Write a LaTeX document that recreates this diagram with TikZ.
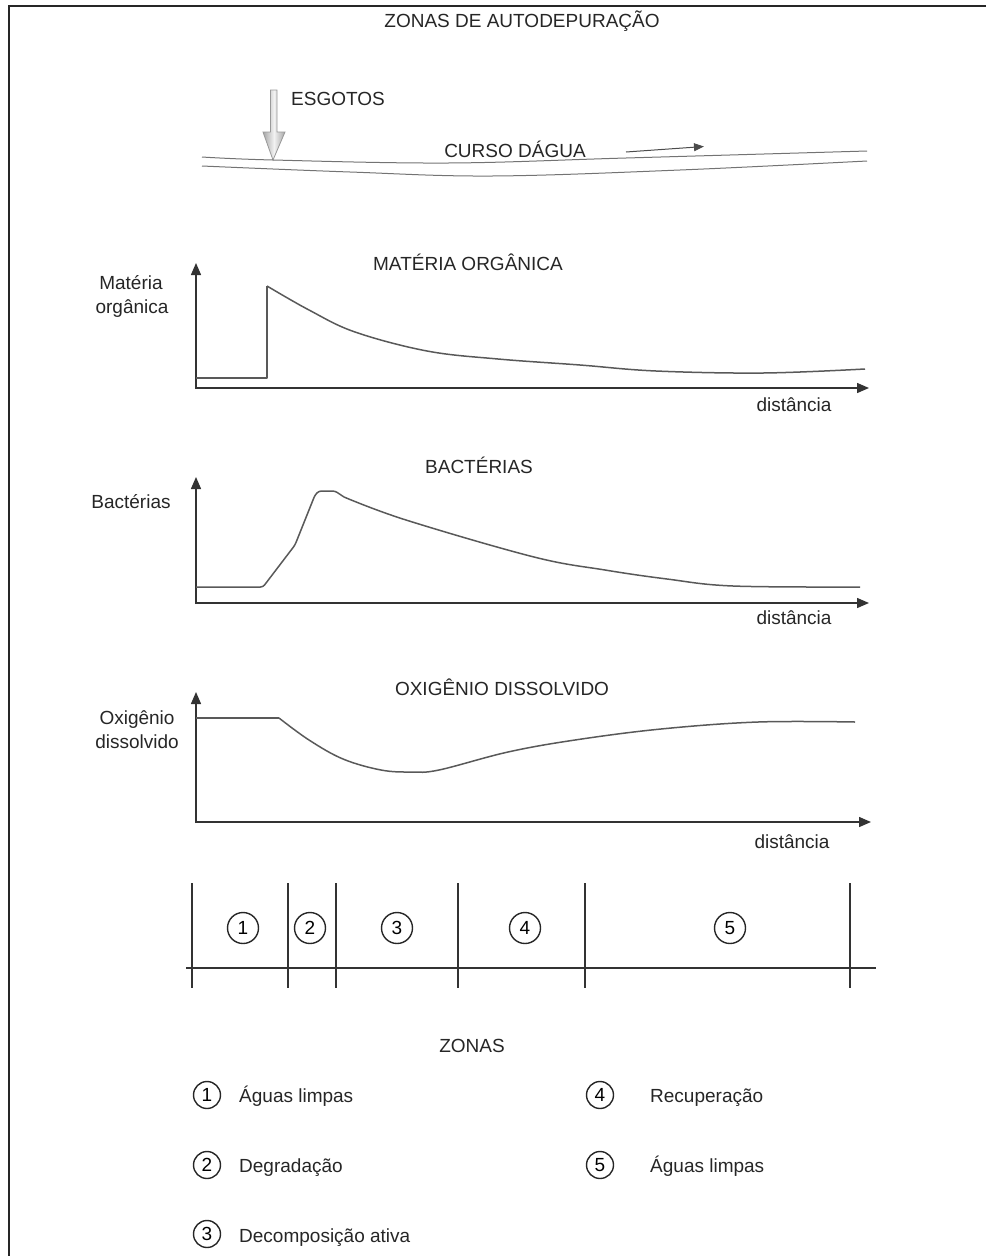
\documentclass[tikz,border=0pt]{standalone}
\usepackage{fontspec}
\setmainfont{Liberation Sans}
\usetikzlibrary{arrows.meta}
\begin{document}
\begin{tikzpicture}[x=1pt,y=-1pt,
  txt/.style={font=\fontsize{19}{22}\selectfont, inner sep=0pt, anchor=base, text=black!85},
  axis/.style={draw=black!80, line width=1.4pt, -{Triangle[length=12pt,width=10pt]}},
  curve/.style={draw=black!65, line width=1.5pt, line join=round},
  zline/.style={draw=black!80, line width=1.3pt},
  zcirc/.style={circle, draw=black!85, line width=1.4pt, minimum size=31pt, inner sep=0pt, font=\fontsize{19}{22}\selectfont},
  lcirc/.style={circle, draw=black!85, line width=1.4pt, minimum size=27pt, inner sep=0pt, font=\fontsize{19}{22}\selectfont},
  ltxt/.style={txt, anchor=base west}]
\useasboundingbox (0,0) rectangle (986,1256);
% frame
\draw[black!85, line width=2.5pt] (986,6) -- (9,6) -- (9,1256);
% title
\node[txt] (title) at (522,27) {ZONAS DE AUTODEPURAÇÃO};
% sewage arrow
\shade[left color=gray!70, right color=gray!70, middle color=gray!10, draw=gray!80, line width=0.8pt]
  (270.5,90) -- (277,90) -- (277,132) -- (285,132) -- (273,160) -- (263,132) -- (270.5,132) -- cycle;
\node[txt, anchor=base west] (esg) at (291,105) {ESGOTOS};
% river
\draw[black!55, line width=1pt] plot[smooth, tension=0.6] coordinates {(202,157) (273,160) (448,163) (626,158) (867,151)};
\draw[black!55, line width=1pt] plot[smooth, tension=0.6] coordinates {(202,166) (350,172) (492,176) (680,170) (867,161)};
\node[txt] (curso) at (515,157) {CURSO DÁGUA};
\coordinate (fa) at (626,152);
\coordinate (fb) at (704,146.5);
\draw[black!70, line width=1pt, -{Triangle[length=10pt,width=8pt]}] (fa) -- (fb);

% graph 1
\node[txt] (t1) at (468,270) {MATÉRIA ORGÂNICA};
\node[txt] (y1a) at (131,289) {Matéria};
\node[txt] (y1b) at (132,313) {orgânica};
\node[txt] (d1) at (794,411) {distância};
\coordinate (o1) at (196,389);
\coordinate (yt1) at (196,263);
\coordinate (xt1) at (869,388);
\draw[axis] (o1) -- (yt1);
\draw[axis] (196,388) -- (xt1);
\draw[curve] (196,378) -- (267,378) -- (267,286);
\draw[curve] plot[smooth, tension=0.6] coordinates {(267,286) (309,310) (355,332) (427,351) (498,359) (580,365) (656,371) (763,373) (865,369)};

% graph 2
\node[txt] (t2) at (479,473) {BACTÉRIAS};
\node[txt] (y2) at (131,508) {Bactérias};
\node[txt] (d2) at (794,624) {distância};
\coordinate (o2) at (196,604);
\coordinate (yt2) at (196,477);
\coordinate (xt2) at (869,603);
\draw[axis] (o2) -- (yt2);
\draw[axis] (196,603) -- (xt2);
\draw[curve, rounded corners=2.5pt] (196,587) -- (263,587) -- (295,545) -- (315,495) -- (319,491) -- (335,491) -- (344,497);
\draw[curve] plot[smooth, tension=0.6] coordinates {(344,497) (406,520) (534,557) (605,570) (667,579) (733,586) (860,587)};

% graph 3
\node[txt] (t3) at (502,695) {OXIGÊNIO DISSOLVIDO};
\node[txt] (y3a) at (137,724) {Oxigênio};
\node[txt] (y3b) at (137,748) {dissolvido};
\node[txt] (d3) at (792,848) {distância};
\coordinate (o3) at (196,823);
\coordinate (yt3) at (196,692);
\coordinate (xt3) at (871,822);
\draw[axis] (o3) -- (yt3);
\draw[axis] (196,822) -- (xt3);
\draw[curve] (196,718) -- (279,718);
\draw[curve] plot[smooth, tension=0.6] coordinates {(279,718) (309,740) (343,759) (381,770) (411,772) (439,770) (508,752) (575,740) (661,729) (758,722) (855,722)};

% zone strip
\foreach \x/\n in {192/za,288/zb,336/zc,458/zd,585/ze,850/zf} {
  \coordinate (\n t) at (\x,883);
  \coordinate (\n b) at (\x,988);
  \draw[zline] (\n t) -- (\n b);
}
\coordinate (hl) at (186,968);
\coordinate (hr) at (876,968);
\draw[zline] (hl) -- (hr);
\node[zcirc] (c1) at (243,928) {1};
\node[zcirc] (c2) at (310,928) {2};
\node[zcirc] (c3) at (397,928) {3};
\node[zcirc] (c4) at (525,928) {4};
\node[zcirc] (c5) at (730,928) {5};

% legend
\node[txt] (zonas) at (472,1052) {ZONAS};
\node[lcirc] (l1) at (207,1095) {1};
\node[ltxt] (l1t) at (239,1102) {Águas limpas};
\node[lcirc] (l2) at (207,1165) {2};
\node[ltxt] (l2t) at (239,1172) {Degradação};
\node[lcirc] (l3) at (207,1234) {3};
\node[ltxt] (l3t) at (239,1242) {Decomposição ativa};
\node[lcirc] (l4) at (600,1095) {4};
\node[ltxt] (l4t) at (650,1102) {Recuperação};
\node[lcirc] (l5) at (600,1165) {5};
\node[ltxt] (l5t) at (650,1172) {Águas limpas};
\end{tikzpicture}
\end{document}
